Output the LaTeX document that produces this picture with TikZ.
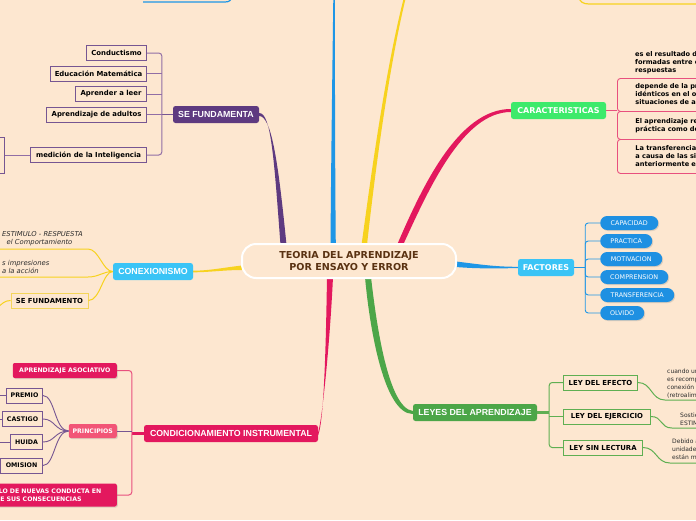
\documentclass[tikz,border=0pt]{standalone}
\usepackage{fontspec}
\setmainfont{DejaVu Sans}
\newfontfamily\libfam{Liberation Sans}
\usetikzlibrary{calc,shadows}
\definecolor{bg}{RGB}{253,231,208}
\definecolor{cpurple}{RGB}{94,58,128}
\definecolor{lpurple}{RGB}{145,110,165}
\definecolor{bpurple}{RGB}{118,86,146}
\definecolor{cblue}{RGB}{30,150,230}
\definecolor{fblue}{RGB}{30,144,226}
\definecolor{lblue}{RGB}{58,196,246}
\definecolor{cyellow}{RGB}{247,210,30}
\definecolor{byellow}{RGB}{244,213,90}
\definecolor{cpink}{RGB}{227,24,94}
\definecolor{lpink}{RGB}{232,80,126}
\definecolor{ppink}{RGB}{242,85,119}
\definecolor{cgreenb}{RGB}{61,234,107}
\definecolor{cgreen}{RGB}{76,166,72}
\definecolor{lgreen}{RGB}{95,175,82}
\definecolor{ctitle}{RGB}{90,50,18}
\definecolor{ctext}{RGB}{45,45,45}
\newcommand\myfmain{\libfam\bfseries\fontsize{8.8}{10}\selectfont}
\newcommand\myfmainb{\bfseries\fontsize{8}{10}\selectfont}
\newcommand\myftitle{\bfseries\fontsize{9.6}{12.5}\selectfont}
\newcommand\myfchild{\bfseries\fontsize{6.9}{8}\selectfont}
\newcommand\myfpr{\bfseries\fontsize{6.3}{8}\selectfont}
\newcommand\myfsmall{\bfseries\fontsize{6.2}{7.6}\selectfont}
\newcommand\myfpill{\fontsize{6.4}{7}\selectfont}
\newcommand\myfcar{\bfseries\fontsize{6.6}{8}\selectfont}
\newcommand\myfley{\fontsize{6}{8}\selectfont}
\newcommand\myfit{\itshape\fontsize{6.8}{8.2}\selectfont}
\pgfdeclarelayer{back}
\pgfdeclarelayer{conn}
\pgfsetlayers{back,conn,main}
\begin{document}
\begin{tikzpicture}[x=1pt,y=-1pt,
  title/.style={draw=white, line width=2pt, fill=bg, rounded corners=14pt, minimum width=214pt, minimum height=34pt, inner sep=0pt, align=center, font=\myftitle, text=ctitle},
  mainlbl/.style={rounded corners=2.5pt, text=white, font=\myfmain, inner sep=0pt, minimum height=17pt},
  childbox/.style={draw=bpurple, fill=bg, line width=0.9pt, font=\myfchild, text=black, inner sep=0pt, minimum height=15pt},
  pbox/.style={childbox, font=\myfpr},
  ybox/.style={childbox, draw=byellow},
  gbox/.style={childbox, draw=lgreen},
  pill/.style={fill=fblue, rounded corners=7pt, text=white, font=\myfpill, inner sep=0pt, minimum height=14pt, drop shadow={opacity=0.25, shadow xshift=1pt, shadow yshift=-1pt}},
  cbox/.style={rounded corners=2pt, text=white, font=\myfsmall, inner sep=0pt, minimum height=15pt, drop shadow={opacity=0.25, shadow xshift=1pt, shadow yshift=-1pt}},
  kbox/.style={draw=lpink, line width=0.9pt, rounded corners=3pt, font=\myfcar, text=black, align=left, text width=200pt, inner xsep=18pt, inner ysep=0pt},
  ktxt/.style={font=\myfcar, text=black, align=left, text width=200pt, inner xsep=18pt, inner ysep=0pt},
  itxt/.style={font=\myfit, text=ctext, align=left, inner sep=3pt},
  ltxt/.style={font=\myfley, text=ctext, align=left, inner xsep=2pt, inner ysep=2pt},
  pcon/.style={draw=lpurple, line width=1pt},
  kcon/.style={draw=lpink, line width=1pt},
  bcon/.style={draw=cblue, line width=0.9pt},
  ycon/.style={draw=cyellow, line width=1pt},
  gcon/.style={draw=lgreen, line width=1pt},
  prcon/.style={draw=bpurple, line width=0.9pt}
]
\useasboundingbox (0,0) rectangle (696,520);
\begin{pgfonlayer}{back}
\fill[bg] (0,0) rectangle (696,520);
\end{pgfonlayer}
\clip (0,0) rectangle (696,520);

% ---------- nodes ----------
\node[title] (ctr) at (349,261) {TEORIA DEL APRENDIZAJE\\POR ENSAYO Y ERROR};

\node[mainlbl, fill=cpurple, minimum width=86pt] (sef) at (216,114.5) {SE FUNDAMENTA};
\node[mainlbl, fill=cgreenb, minimum width=95pt, font=\myfmainb] (car) at (558.5,110.5) {CARACTERISTICAS};
\node[mainlbl, fill=lblue, minimum width=56pt, font=\myfmainb] (fac) at (546,267.5) {FACTORES};
\node[mainlbl, fill=lblue, minimum width=80pt] (con) at (153,271.5) {CONEXIONISMO};
\node[mainlbl, fill=cpink, minimum width=174pt] (ci) at (231,433.5) {CONDICIONAMIENTO INSTRUMENTAL};
\node[mainlbl, fill=cgreen, minimum width=124pt] (ley) at (475,412.5) {LEYES DEL APRENDIZAJE};

% SE FUNDAMENTA children
\node[childbox, minimum width=60pt, anchor=east] (s1) at (147,53) {Conductismo};
\node[childbox, minimum width=96pt, anchor=east] (s2) at (147,73.5) {Educación Matemática};
\node[childbox, minimum width=71pt, anchor=east] (s3) at (147,94) {Aprender a leer};
\node[childbox, minimum width=100pt, anchor=east] (s4) at (147,114.5) {Aprendizaje de adultos};
\node[childbox, minimum width=116pt, anchor=east] (s5) at (147,155) {medición de la Inteligencia};
\node[childbox, minimum width=60pt, minimum height=36pt, anchor=east] (s6) at (5,155) {};
\coordinate (sfb) at ($(sef.west)+(-11,0)$);
\draw[prcon, line width=1.3pt] (sef.west) -- (sfb);
\draw[pcon, rounded corners=3pt] (s1.east) -- (s1.east -| sfb) -- (sfb);
\draw[pcon] (s2.east) -- (s2.east -| sfb);
\draw[pcon] (s3.east) -- (s3.east -| sfb);
\draw[pcon] (s4.east) -- (s4.east -| sfb);
\draw[pcon, rounded corners=3pt] (s5.east) -- (s5.east -| sfb) -- (sfb);
\draw[pcon] (s5.west) -- (s6.east);

% CARACTERISTICAS children
\coordinate (kb) at ($(car.east)+(11,0)$);
\node[ktxt, anchor=west] (k1) at (617,63) {es el resultado de las asociaciones\\formadas entre estímulos y\\respuestas};
\node[kbox, anchor=north west, minimum height=33pt] (k2) at (617,78) {depende de la presencia de elementos\\idénticos en el original y en las\\situaciones de aprendizaje};
\node[kbox, anchor=north west, minimum height=28pt] (k3) at (617,111) {El aprendizaje requiere tanto de la\\práctica como de la recompensa};
\node[kbox, anchor=north west, minimum height=34pt] (k4) at (617,139) {La transferencia de aprendizaje ocurre\\a causa de las situaciones encontradas\\anteriormente en la vida};
\draw[kcon] (car.east) -- (kb);

% FACTORES children
\node[pill, anchor=west, minimum width=58pt] (f1) at (600,223) {CAPACIDAD};
\node[pill, anchor=west, minimum width=52pt] (f2) at (600,241) {PRACTICA};
\node[pill, anchor=west, minimum width=62pt] (f3) at (600,259) {MOTIVACION};
\node[pill, anchor=west, minimum width=68pt] (f4) at (600,277) {COMPRENSION};
\node[pill, anchor=west, minimum width=74pt] (f5) at (600,295) {TRANSFERENCIA};
\node[pill, anchor=west, minimum width=44pt] (f6) at (600,313) {OLVIDO};
\coordinate (fb) at ($(fac.east)+(11,0)$);
\draw[bcon, line width=1.3pt] (fac.east) -- (fb);
\foreach \n in {f1,f2,f3,f4,f5,f6}{
  \draw[bcon, rounded corners=3pt] (\n.west) -- (\n.west -| fb) -- (fb);
}

% CONEXIONISMO children
\node[itxt, anchor=south west] (e1) at (-1,249) {ESTIMULO - RESPUESTA\\\hspace*{4.5pt}el Comportamiento};
\node[itxt, anchor=south west] (e2) at (-1,277) {s impresiones\\a la acción};
\node[ybox, minimum width=77pt] (sfo) at (49.5,300.5) {SE FUNDAMENTO};
\draw[ycon] (e1.south west) -- ++(89,0) .. controls +(11,0) and +(-10,0) .. (con.west);
\draw[ycon] (e2.south west) -- ++(89,0) .. controls +(11,0) and +(-10,0) .. (con.west);
\draw[ycon] (sfo.east) .. controls +(12,0) and +(-10,0) .. (con.west);
\coordinate (sfo2) at (-2,307);
\draw[ycon] (sfo.west) .. controls +(-6,0) and +(4,-3) .. (sfo2);

% CONDICIONAMIENTO children
\coordinate (cb) at ($(ci.west)+(-12,0)$);
\node[cbox, fill=cpink, minimum width=104pt, anchor=east] (aa) at (117,370.5) {APRENDIZAJE ASOCIATIVO};
\node[cbox, fill=ppink, minimum width=48pt, minimum height=14pt, anchor=east] (pr) at (117,431) {PRINCIPIOS};
\node[cbox, fill=cpink, anchor=east, minimum height=23pt, text width=145pt, align=left, inner xsep=10.4pt] (dn) at (117,495) {DESARROLLO DE NUEVAS CONDUCTA EN\\FUNCIÓN DE SUS CONSECUENCIAS};
\draw[draw=cpink, line width=2.5pt] (ci.west) -- (cb);
\draw[kcon, rounded corners=3pt] (aa.east) -- (aa.east -| cb) -- (cb);
\draw[kcon, rounded corners=3pt] (dn.east) -- (dn.east -| cb) -- (cb);
\draw[prcon] (pr.east) -- (pr.east -| cb);

\node[pbox, minimum width=36pt, anchor=east] (p1) at (43,395.5) {PREMIO};
\node[pbox, minimum width=40pt, anchor=east] (p2) at (43,419) {CASTIGO};
\node[pbox, minimum width=32pt, anchor=east] (p3) at (43,442) {HUIDA};
\node[pbox, minimum width=42pt, anchor=east] (p4) at (43,465.5) {OMISION};
\foreach \n in {p1,p2,p3,p4}{
  \draw[prcon] (pr.west) .. controls +(-14,0) and +(12,0) .. (\n.east);
  \draw[prcon] (\n.west) -- ++(-10,0);
}

% LEYES children
\coordinate (lb) at ($(ley.east)+(12,0)$);
\node[gbox, minimum width=74pt, anchor=west] (l1) at (563,382.5) {LEY DEL EFECTO};
\node[gbox, minimum width=87pt, anchor=west] (l2) at (563,416.5) {LEY DEL EJERCICIO};
\node[gbox, minimum width=79pt, anchor=west] (l3) at (563,447.5) {LEY SIN LECTURA};
\draw[gcon, line width=2.2pt] (ley.east) -- (lb);
\draw[gcon, rounded corners=3pt] (l1.west) -- (l1.west -| lb) -- (lb);
\draw[gcon] (l2.west) -- (l2.west -| lb);
\draw[gcon, rounded corners=3pt] (l3.west) -- (l3.west -| lb) -- (lb);
\node[ltxt, anchor=south west] (lt1) at (665,400) {cuando una respuesta\\es recompensada la\\conexión se fortalece\\(retroalimentación)};
\node[ltxt, anchor=south west] (lt2) at (678,428) {Sostiene que la conexión\\ESTIMULO-RESPUESTA};
\node[ltxt, anchor=south west] (lt3) at (670,463) {Debido a que ciertas\\unidades de conducción\\están más preparadas};
\draw[gcon] (l1.east) .. controls +(14,0) and +(-14,0) .. (lt1.south west) -- ++(60,0);
\draw[gcon] (l2.east) .. controls +(12,0) and +(-12,0) .. ($(lt2.south west)+(-6,0)$) -- ++(60,0);
\draw[gcon] (l3.east) .. controls +(14,0) and +(-14,0) .. (lt3.south west) -- ++(60,0);

% free connectors at the top edge
\coordinate (tl1) at (143,2);
\coordinate (tl2) at (232,-4);
\draw[bcon, line width=1.2pt] (tl1) -- ++(82,0) .. controls +(5,0) and +(-1,4) .. (tl2);
\coordinate (tr1) at (578,-4);
\coordinate (tr2) at (700,4);
\draw[ycon, line width=1.2pt] (tr1) .. controls +(2,6) and +(-6,0) .. (589,4) -- (tr2);

% ---------- tapered main branches ----------
\begin{pgfonlayer}{conn}
\clip (0,0) rectangle (696,520);
\coordinate (bt) at (334.1,-1);
\coordinate (yt) at (404.5,-1);
% purple
\fill[cpurple] ($(sef.east)+(0,-1.5)$) .. controls +(12,0) and +(-6.5,-86) .. ($(ctr.north)+(-68.5,2)$)
  -- ($(ctr.north)+(-62.5,2)$) .. controls +(-8.5,-86) and +(12,0) .. ($(sef.east)+(0,1.5)$) -- cycle;
% blue up
\fill[cblue] ($(ctr.north)+(-18.5,2)$) .. controls +(0.5,-76) and +(-0.8,61) .. ($(bt)+(-0.8,0)$)
  -- ($(bt)+(0.8,0)$) .. controls +(0,61) and +(-0.8,-76) .. ($(ctr.north)+(-13.2,2)$) -- cycle;
% yellow up
\fill[cyellow] ($(ctr.north)+(12.5,2)$) .. controls +(6.5,-46) and +(-20.5,81) .. ($(yt)+(-1,0)$)
  -- ($(yt)+(1,0)$) .. controls +(-19.5,81) and +(5,-46) .. ($(ctr.north)+(18,2)$) -- cycle;
% pink to CARACTERISTICAS
\fill[cpink] ($(ctr.north)+(48,2)$) .. controls +(25,-58) and +(-52.5,0) .. ($(car.west)+(0,-1.5)$)
  -- ($(car.west)+(0,1.5)$) .. controls +(-48.5,0) and +(25,-54) .. ($(ctr.north)+(54,2)$) -- cycle;
% blue to FACTORES
\fill[cblue] ($(ctr.east)+(-1,0.5)$) .. controls +(25,3) and +(-23,0) .. ($(fac.west)+(0,-0.7)$)
  -- ($(fac.west)+(0,0.7)$) .. controls +(-23,0) and +(25,2) .. ($(ctr.east)+(-1,6)$) -- cycle;
% green to LEYES
\fill[cgreen] ($(ctr.south)+(16,-2)$) .. controls +(4,45) and +(-30,0) .. ($(ley.west)+(0,1.5)$)
  -- ($(ley.west)+(0,-1.5)$) .. controls +(-25,-3) and +(5,44) .. ($(ctr.south)+(22,-2)$) -- cycle;
% crimson to CONDICIONAMIENTO
\fill[cpink] ($(ctr.south)+(-22,-2)$) .. controls +(-1,63) and +(6,-15) .. ($(ci.east)+(0,1.5)$)
  -- ($(ci.east)+(0,-1.5)$) .. controls +(4,-12) and +(-3,64) .. ($(ctr.south)+(-16,-2)$) -- cycle;
% yellow to CONEXIONISMO
\fill[cyellow] ($(ctr.west)+(1,4.5)$) .. controls +(-18,2) and +(16,0) .. ($(con.east)+(0,-0.8)$)
  -- ($(con.east)+(0,0.8)$) .. controls +(16,0) and +(-18,0) .. ($(ctr.west)+(1,9)$) -- cycle;
\end{pgfonlayer}
\end{tikzpicture}
\end{document}
